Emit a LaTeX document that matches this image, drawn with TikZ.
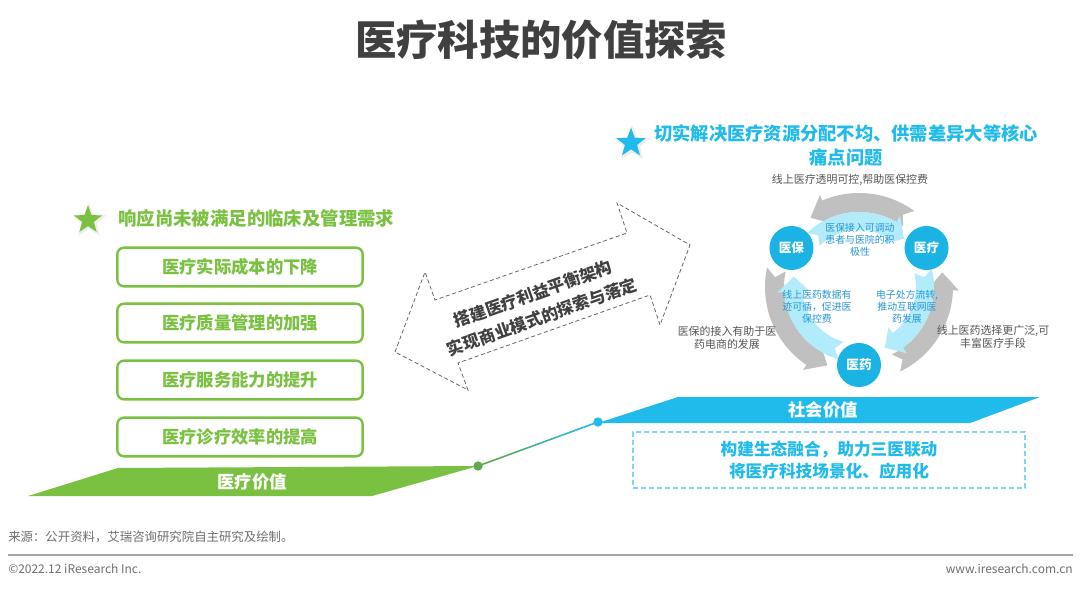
\documentclass[tikz,border=0pt]{standalone}
\usepackage{fontspec}
\setmainfont{Noto Sans CJK SC}
\usetikzlibrary{shapes.geometric,calc}
\definecolor{gr}{RGB}{122,193,66}
\definecolor{grdot}{RGB}{95,170,80}
\definecolor{cy}{RGB}{32,187,234}
\definecolor{nodecy}{RGB}{27,178,228}
\definecolor{lcy}{RGB}{178,236,250}
\definecolor{dashcy}{RGB}{130,212,242}
\definecolor{garr}{RGB}{192,192,192}
\definecolor{txtblue}{RGB}{40,150,210}
\definecolor{dk}{RGB}{64,64,64}
\definecolor{lbl}{RGB}{85,85,85}
\definecolor{ft}{RGB}{110,110,110}
\newcommand\myfs[2]{\fontsize{#1}{#2}\selectfont}
\def\ccx{859}
\def\ccy{287}
% #1 start, #2 head base, #3 tip, #4 rin, #5 rout, #6 ext, #7 color
\newcommand\cycarrow[7]{%
 \fill[#7] plot[domain=#1:#2,samples=30] ({\ccx+#4*cos(\x)},{\ccy+#4*sin(\x)})
   -- ({\ccx+(#4-#6)*cos(#2)},{\ccy+(#4-#6)*sin(#2)})
   -- ({\ccx+(#4+#5)/2*cos(#3)},{\ccy+(#4+#5)/2*sin(#3)})
   -- ({\ccx+(#5+#6)*cos(#2)},{\ccy+(#5+#6)*sin(#2)})
   -- plot[domain=#2:#1,samples=30] ({\ccx+#5*cos(\x)},{\ccy+#5*sin(\x)})
   -- ({\ccx+(#4+#5)/2*cos(#1+0.08*(#2-#1))},{\ccy+(#4+#5)/2*sin(#1+0.08*(#2-#1))})
   -- cycle;}
\tikzset{
 gbox/.style={draw=gr, line width=1.8pt, rounded corners=5pt, minimum width=184pt,
   minimum height=29pt, text=gr, font=\myfs{13}{15}\bfseries},
 cnode/.style={circle, fill=nodecy, text=white, minimum size=33pt, inner sep=0pt,
   font=\myfs{9.5}{10}\bfseries},
 inlbl/.style={align=center, text=txtblue, font=\myfs{7.4}{9}},
 outlbl/.style={align=center, text=lbl, font=\myfs{8.2}{10}},
 arrlbl/.style={rotate=19.5, inner sep=0pt, text=dk, font=\myfs{12.5}{14}\bfseries},
 starnode/.style={star, star points=5, star point ratio=2.4, inner sep=0pt, minimum size=#1},
 halo/.style={star, star points=5, star point ratio=2.2, inner sep=0pt, minimum size=#1, fill=black!7},
 dotnode/.style={circle, inner sep=0pt, minimum size=7pt},
}
\begin{document}
\begin{tikzpicture}[x=0.75pt,y=-0.75pt]
\useasboundingbox (0,0) rectangle (1080,591);
\fill[white] (0,0) rectangle (1080,591);

% title
\node[text=dk, font=\myfs{31}{32}\bfseries] (title) at (541,40) {医疗科技的价值探索};

% left part
\node[halo=27pt] (ghalo) at (89,221) {};
\node[starnode=22pt, fill=gr] (gstar) at (88,220) {};
\node[anchor=west, text=gr, font=\myfs{13.8}{15}\bfseries, inner sep=0pt] (ghead) at (118,218) {响应尚未被满足的临床及管理需求};
\node[gbox] (b1) at (240,267) {医疗实际成本的下降};
\node[gbox] (b2) at (240,323) {医疗质量管理的加强};
\node[gbox] (b3) at (240,380) {医疗服务能力的提升};
\node[gbox] (b4) at (240,437) {医疗诊疗效率的提高};

\fill[gr] (28,496) -- (118,468) -- (478,466) -- (372,496) -- cycle;
\node[text=white, font=\myfs{13}{15}\bfseries] (gval) at (252,482) {医疗价值};

% blue bar
\fill[cy] (598,423) -- (678,397) -- (1040,397) -- (970,423) -- cycle;
\node[text=white, font=\myfs{13}{15}\bfseries] (sval) at (823,410) {社会价值};

% dots and connector
\node[dotnode, fill=grdot] (gdot) at (478,466) {};
\node[dotnode, fill=cy] (bdot) at (598,422) {};
\foreach \i/\c in {0/0,1/20,2/40,3/60,4/80,5/100}{
  \pgfmathsetmacro\a{\i/6}\pgfmathsetmacro\b{(\i+1)/6}
  \draw[line width=1.2pt, color=cy!\c!grdot] ($(gdot)!\a!(bdot)$) -- ($(gdot)!\b!(bdot)$);
}

% dashed box
\node[draw=dashcy, dash pattern=on 4pt off 2pt, line width=1.4pt, minimum width=294pt,
  minimum height=42pt, align=center, text=cy, font=\myfs{12.5}{16.5}\bfseries] (sbox) at (829,460)
  {构建生态融合，助力三医联动\\将医疗科技场景化、应用化};

% dashed double arrow
\draw[dk!80, dash pattern=on 3pt off 2pt, line width=0.6pt]
  (395,352) -- (425,272) -- (435,300) -- (627,233) -- (617,203) -- (690,245)
  -- (660,325) -- (650,295) -- (458,363) -- (468,390) -- cycle;
\node[arrlbl] (arrt1) at (533,294) {搭建医疗利益平衡架构};
\node[arrlbl] (arrt2) at (542,317) {实现商业模式的探索与落定};

% right header
\node[halo=28pt] (chalo) at (632,144) {};
\node[starnode=23pt, fill=cy] (cstar) at (631,143) {};
\node[align=center, text=cy, font=\myfs{13.7}{18}\bfseries] (chead) at (846,145)
  {切实解决医疗资源分配不均、供需差异大等核心\\痛点问题};

% cycle arrows
\cycarrow{306}{247}{235}{75}{94}{6}{garr}
\cycarrow{424}{362}{350}{75}{94}{6}{garr}
\cycarrow{192}{124}{112}{75}{94}{6}{garr}
\cycarrow{226}{300}{313}{57}{75}{7}{lcy}
\cycarrow{346}{414}{427}{57}{75}{7}{lcy}
\cycarrow{106}{176}{189}{57}{75}{7}{lcy}

\node[cnode] (yb) at ({\ccx+78*cos(210)},{\ccy+78*sin(210)}) {医保};
\node[cnode] (yl) at ({\ccx+78*cos(330)},{\ccy+78*sin(330)}) {医疗};
\node[cnode] (yy) at ({\ccx+78*cos(90)},{\ccy+78*sin(90)}) {医药};

\node[inlbl] (l1) at (860,240) {医保接入可调动\\患者与医院的积\\极性};
\node[inlbl] (l2) at (817,307) {线上医药数据有\\迹可循，促进医\\保控费};
\node[inlbl] (l3) at (907,307) {电子处方流转,\\推动互联网医\\药发展};

\node[outlbl] (o1) at (850,180) {线上医疗透明可控,帮助医保控费};
\node[outlbl] (o2) at (727,338) {医保的接入有助于医\\药电商的发展};
\node[outlbl] (o3) at (993,337) {线上医药选择更广泛,可\\丰富医疗手段};

% footer
\node[anchor=west, text=ft, font=\myfs{9.3}{11}, inner sep=0pt] (src) at (8,537) {来源：公开资料，艾瑞咨询研究院自主研究及绘制。};
\coordinate (fl) at (8,555);
\coordinate (fr) at (1073,555);
\draw[line width=1pt, color=black!35] (fl) -- (fr);
\node[anchor=west, text=ft, font=\myfs{9}{11}, inner sep=0pt] (copy) at (8,569) {©2022.12 iResearch Inc.};
\node[anchor=east, text=ft, font=\myfs{9}{11}, inner sep=0pt] (www) at (1073,569) {www.iresearch.com.cn};
\end{tikzpicture}
\end{document}
